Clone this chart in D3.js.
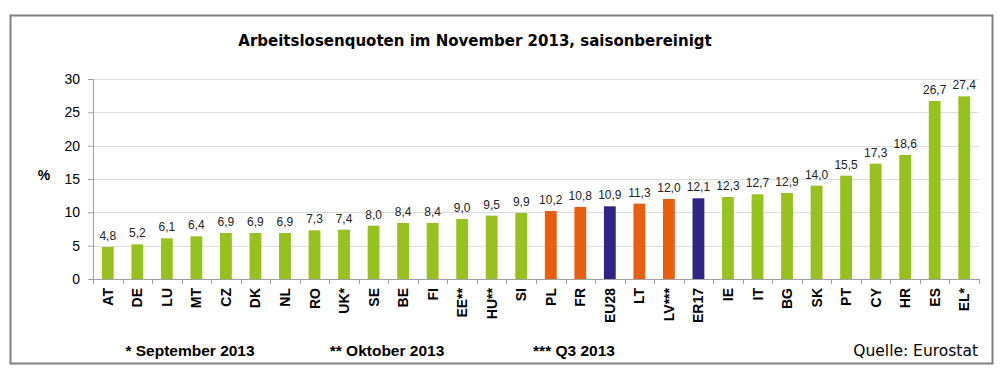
<!DOCTYPE html>
<html>
<head>
<meta charset="utf-8">
<script src="https://cdn.jsdelivr.net/npm/d3@7"></script>
<style>
  body { margin: 0; background: #fff; }
  text { font-family: "Liberation Sans", Arial, sans-serif; }
</style>
</head>
<body>
<div id="wrapper"></div>
<script>
const countries = ["AT","DE","LU","MT","CZ","DK","NL","RO","UK*","SE","BE","FI","EE**","HU**","SI","PL","FR","EU28","LT","LV***","ER17","IE","IT","BG","SK","PT","CY","HR","ES","EL*"]
const rates = [4.8,5.2,6.1,6.4,6.9,6.9,6.9,7.3,7.4,8.0,8.4,8.4,9.0,9.5,9.9,10.2,10.8,10.9,11.3,12.0,12.1,12.3,12.7,12.9,14.0,15.5,17.3,18.6,26.7,27.4]
const groups = ["c","c","c","c","c","c","c","c","c","c","c","c","c","c","c","h","h","a","h","h","a","c","c","c","c","c","c","c","c","c"]
const yTicks = [0,5,10,15,20,25,30]
const footnotes = ["* September 2013","** Oktober 2013","*** Q3 2013"]

const colors = { c: "#97c11f", h: "#e8600f", a: "#2f2582" }

const dimensions = {
    width: 1000,
    height: 375,
    margin: { top: 79, right: 21, bottom: 96, left: 93 },
}
dimensions.boundedWidth = dimensions.width - dimensions.margin.left - dimensions.margin.right
dimensions.boundedHeight = dimensions.height - dimensions.margin.top - dimensions.margin.bottom

const svg = d3.select("#wrapper")
    .append("svg")
    .attr("width", dimensions.width)
    .attr("height", dimensions.height)

// outer frame
svg.append("rect")
    .attr("x", 10.5).attr("y", 15.5)
    .attr("width", 982).attr("height", 348)
    .attr("fill", "none")
    .attr("stroke", "#808080")
    .attr("stroke-width", 2)

svg.append("text")
    .attr("x", 475).attr("y", 46)
    .attr("text-anchor", "middle")
    .style("font-family", "Tahoma, 'DejaVu Sans', sans-serif")
    .style("font-weight", "bold")
    .style("font-size", "15px")
    .text("Arbeitslosenquoten im November 2013, saisonbereinigt")

const bounds = svg.append("g")
    .attr("transform", `translate(${dimensions.margin.left},${dimensions.margin.top})`)

const xScale = d3.scaleBand()
    .domain(countries)
    .range([0, dimensions.boundedWidth])
    .paddingInner(0.6)
    .paddingOuter(0.3)

const yScale = d3.scaleLinear()
    .domain([0, 30])
    .range([dimensions.boundedHeight, 0])

// gridlines
bounds.selectAll(".grid")
    .data(yTicks.slice(1))
    .join("line")
    .attr("x1", 0).attr("x2", dimensions.boundedWidth)
    .attr("y1", d => Math.round(yScale(d)) + 0.5)
    .attr("y2", d => Math.round(yScale(d)) + 0.5)
    .attr("stroke", "#dcdcdc")
    .attr("stroke-width", 1)

// bars
bounds.selectAll(".bar")
    .data(countries)
    .join("rect")
    .attr("x", d => xScale(d))
    .attr("width", xScale.bandwidth())
    .attr("y", (d, i) => yScale(rates[i]))
    .attr("height", (d, i) => dimensions.boundedHeight - yScale(rates[i]))
    .attr("fill", (d, i) => colors[groups[i]])

// value labels
bounds.selectAll(".val")
    .data(countries)
    .join("text")
    .attr("x", d => xScale(d) + xScale.bandwidth() / 2)
    .attr("y", (d, i) => yScale(rates[i]) - 7)
    .attr("text-anchor", "middle")
    .style("font-size", "12px")
    .attr("fill", "#222")
    .text((d, i) => d3.format(".1f")(rates[i]).replace(".", ","))

// y axis
const yAxis = bounds.append("g")
    .call(d3.axisLeft(yScale).tickValues(yTicks).tickSize(5).tickPadding(8))
yAxis.select(".domain").attr("stroke", "#a0a0a0")
yAxis.selectAll(".tick line").attr("stroke", "#a0a0a0")
yAxis.selectAll(".tick text")
    .style("font-size", "14px")
    .style("font-family", "'Liberation Sans', Arial, sans-serif")
    .attr("fill", "#000")

// x axis: ticks at band boundaries
const xAxisG = bounds.append("g")
    .attr("transform", `translate(0,${dimensions.boundedHeight})`)
xAxisG.append("line")
    .attr("x1", 0).attr("x2", dimensions.boundedWidth)
    .attr("y1", 0.5).attr("y2", 0.5)
    .attr("stroke", "#a0a0a0")
const step = xScale.step()
const boundaries = d3.range(countries.length + 1).map(i => xScale(countries[0]) - step * xScale.paddingInner() / 2 + i * step)
xAxisG.selectAll(".xt")
    .data(boundaries)
    .join("line")
    .attr("x1", d => Math.round(d) + 0.5).attr("x2", d => Math.round(d) + 0.5)
    .attr("y1", 0).attr("y2", 5)
    .attr("stroke", "#a0a0a0")
xAxisG.selectAll(".xl")
    .data(countries)
    .join("text")
    .attr("transform", d => `translate(${xScale(d) + xScale.bandwidth() / 2 + 5},9) rotate(-90)`)
    .attr("text-anchor", "end")
    .style("font-size", "14px")
    .style("font-weight", "bold")
    .text(d => d)

// y label
svg.append("text")
    .attr("x", 44).attr("y", 180)
    .attr("text-anchor", "middle")
    .style("font-size", "14px")
    .style("font-weight", "bold")
    .text("%")

// footnotes
const footX = [190, 387, 574]
svg.selectAll(".foot")
    .data(footnotes)
    .join("text")
    .attr("x", (d, i) => footX[i])
    .attr("y", 356)
    .attr("text-anchor", "middle")
    .style("font-size", "15.5px")
    .style("font-weight", "bold")
    .text(d => d)

svg.append("text")
    .attr("x", 978).attr("y", 356)
    .attr("text-anchor", "end")
    .style("font-family", "Tahoma, 'DejaVu Sans', sans-serif")
    .style("font-size", "15.5px")
    .text("Quelle: Eurostat")
</script>
</body>
</html>
